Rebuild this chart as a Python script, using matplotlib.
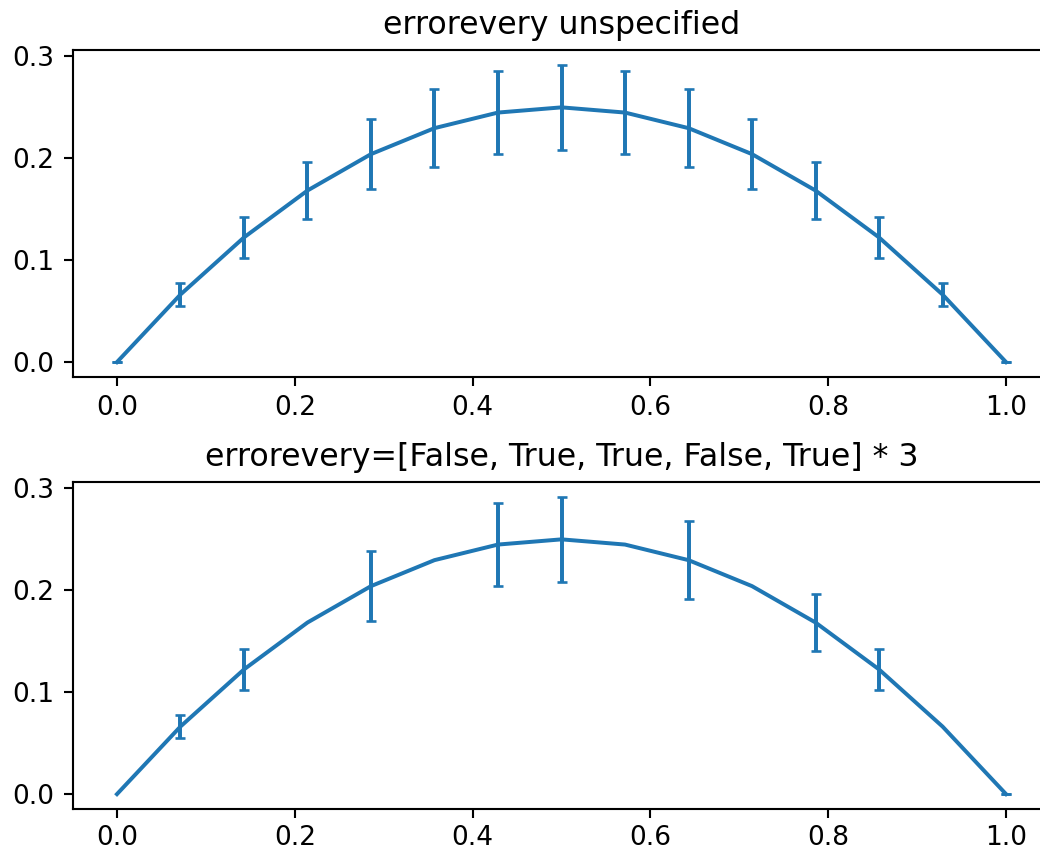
import matplotlib
matplotlib.use("Agg")
import matplotlib.pyplot as plt
from matplotlib.ticker import MultipleLocator

# sample points, y = x*(1-x), error = y/6
x = [0.0, 0.0714, 0.1429, 0.2143, 0.2857, 0.3571, 0.4286, 0.5,
     0.5714, 0.6429, 0.7143, 0.7857, 0.8571, 0.9286, 1.0]
y = [0.0, 0.0663, 0.1224, 0.1684, 0.2041, 0.2296, 0.2449, 0.25,
     0.2449, 0.2296, 0.2041, 0.1684, 0.1224, 0.0663, 0.0]
yerr = [0.0, 0.0111, 0.0204, 0.0281, 0.0340, 0.0383, 0.0408, 0.0417,
        0.0408, 0.0383, 0.0340, 0.0281, 0.0204, 0.0111, 0.0]
mask = [False, True, True, False, True] * 3

W, H, DPI = 1040, 851, 190
fig = plt.figure(figsize=(W / DPI, H / DPI), dpi=DPI)

# axes run past the right edge of the picture, as in the reference crop
left = 72.5 / W
width = 978 / W
ax0 = fig.add_axes([left, 1 - 377 / H, width, (377 - 50) / H])
ax1 = fig.add_axes([left, 1 - 809 / H, width, (809 - 482) / H])

ax0.errorbar(x, y, yerr=yerr, capsize=2)
ax0.set_title('errorevery unspecified')

ax1.errorbar(x, y, yerr=yerr, capsize=2, errorevery=mask)
ax1.set_title('errorevery=[False, True, True, False, True] * 3')

for ax in (ax0, ax1):
    ax.yaxis.set_major_locator(MultipleLocator(0.1))
    ax.spines['right'].set_visible(False)
ax1.tick_params(axis='x', pad=2.5)

fig.savefig('out.png', dpi=DPI)
